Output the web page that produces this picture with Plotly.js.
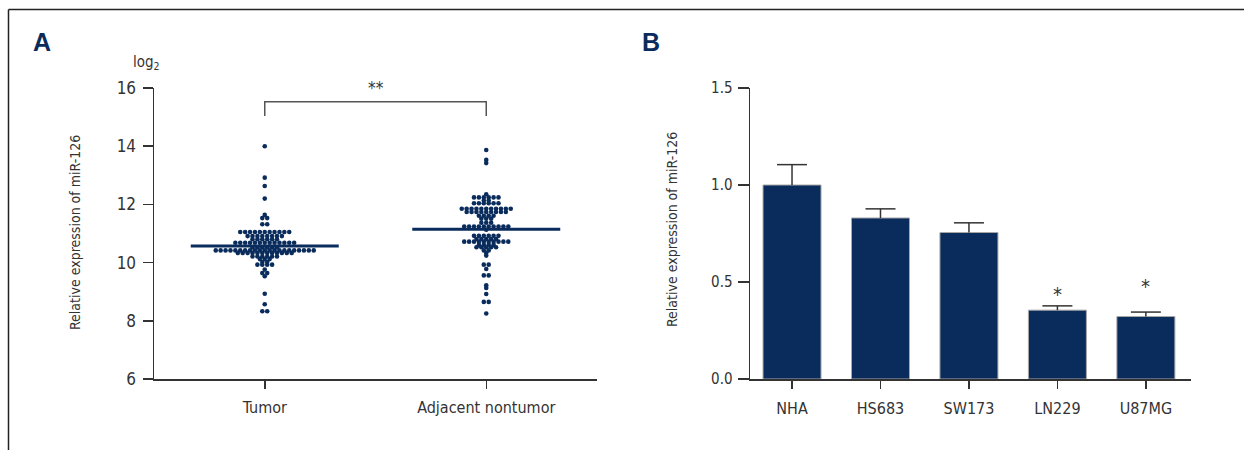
<!DOCTYPE html>
<html>
<head>
<meta charset="utf-8">
<script src="https://cdn.plot.ly/plotly-3.0.1.min.js"></script>
<style>html,body{margin:0;padding:0;background:#fff}#chart{width:1244px;height:450px}</style>
</head>
<body>
<div id="chart"></div>
<script>
// ---------- data ----------
const GROUPS = ["Tumor", "Adjacent nontumor"];
const TUMOR = [
  14.0, 12.92, 12.63, 12.2, 11.64, 11.53, 11.53, 11.32, 11.32,
  11.05, 11.05, 11.05, 11.05, 11.05, 11.05, 11.05, 11.05, 11.05, 11.05, 11.05,
  10.91, 10.91, 10.91, 10.91, 10.91, 10.91, 10.91, 10.91,
  10.8, 10.8, 10.8, 10.8, 10.8, 10.8,
  10.68, 10.68, 10.68, 10.68, 10.68, 10.68, 10.68, 10.68, 10.68, 10.68, 10.68, 10.68, 10.68,
  10.52, 10.52, 10.52, 10.52, 10.52, 10.52,
  10.42, 10.42, 10.42, 10.42, 10.42, 10.42, 10.42, 10.42, 10.42, 10.42, 10.42,
  10.42, 10.42, 10.42, 10.42, 10.42, 10.42, 10.42, 10.42, 10.42, 10.42,
  10.33, 10.33, 10.33, 10.33, 10.33, 10.33, 10.33, 10.33, 10.33, 10.33, 10.33, 10.33,
  10.21, 10.21, 10.21, 10.21, 10.21, 10.21,
  10.12, 10.12, 10.12,
  10.02, 10.02, 9.93, 9.93, 9.93, 9.93,
  9.76, 9.64, 9.64, 9.53,
  8.93, 8.57, 8.33, 8.33
];
const ADJACENT = [
  13.87, 13.53, 13.42, 12.35,
  12.24, 12.24, 12.24, 12.24, 12.24, 12.24,
  12.13, 12.13,
  12.04, 12.04, 12.04, 12.04, 12.04, 12.04,
  11.85, 11.85, 11.85, 11.85, 11.85, 11.85, 11.85, 11.85, 11.85, 11.85, 11.85,
  11.74, 11.74, 11.74, 11.74, 11.74, 11.74, 11.74, 11.74, 11.74,
  11.61, 11.61, 11.61, 11.61,
  11.51, 11.51, 11.51,
  11.37, 11.37, 11.37,
  11.24, 11.24, 11.24, 11.24, 11.24, 11.24, 11.24, 11.24, 11.24, 11.24,
  11.13,
  10.92, 10.92, 10.92, 10.92, 10.92, 10.92,
  10.81, 10.81, 10.81, 10.81, 10.81,
  10.72, 10.72, 10.72, 10.72, 10.72, 10.72, 10.72, 10.72, 10.72, 10.72,
  10.61, 10.61, 10.61, 10.61,
  10.53, 10.53, 10.53, 10.53, 10.53,
  10.42, 10.42, 10.33, 10.24,
  9.93, 9.93, 9.78, 9.56, 9.56, 9.22, 9.13, 8.92, 8.65, 8.65, 8.25
];
const CENTER_LINES = [10.57, 11.15];   // horizontal summary lines
const Y_TICKS_A = [6, 8, 10, 12, 14, 16];

const CELLS = ["NHA", "HS683", "SW173", "LN229", "U87MG"];
const EXPRESSION = [1.0, 0.83, 0.755, 0.355, 0.322];
const SEM = [0.105, 0.047, 0.05, 0.022, 0.023];
const SIGNIF = ["", "", "", "*", "*"];
const SIGNIF_Y = [0, 0, 0, 0.44, 0.48];
const Y_TICKS_B = [0, 0.5, 1.0, 1.5];

// ---------- geometry ----------
const W = 1244, H = 450;
const AX = [154, 597], AY = [88, 379];
const BX = [750, 1191], BY = [88, 379];
const XR_A = [-0.5, 1.5], YR_A = [6, 16];
const XR_B = [-0.475, 4.51], YR_B = [0, 1.5];
const pxPerXA = (AX[1] - AX[0]) / (XR_A[1] - XR_A[0]);
const pxPerXB = (BX[1] - BX[0]) / (XR_B[1] - XR_B[0]);

const NAVY = "#0a2c5c";
const INK = "#333333";
const FONT = '"Liberation Sans Narrow", "DejaVu Sans Condensed", "Roboto Condensed", "Arial Narrow", sans-serif';

// row-based dot plot layout: equal values share a row, centred on the group
function rows(vals, center, S) {
  const counts = {}, seen = {};
  vals.forEach(v => { counts[v] = (counts[v] || 0) + 1; });
  return vals.map(v => {
    const j = seen[v] = (seen[v] === undefined ? 0 : seen[v] + 1);
    const off = (j - (counts[v] - 1) / 2) * S;
    return center + off / pxPerXA;
  });
}

const S = 4.9;
const traces = [];
[TUMOR, ADJACENT].forEach((vals, g) => {
  traces.push({
    type: "scatter", mode: "markers", xaxis: "x", yaxis: "y",
    x: rows(vals, g, S), y: vals,
    marker: { size: 4.6, color: NAVY },
    hoverinfo: "y", cliponaxis: false
  });
});
// summary lines
const HALF = 74 / pxPerXA;
CENTER_LINES.forEach((v, g) => {
  traces.push({
    type: "scatter", mode: "lines", xaxis: "x", yaxis: "y",
    x: [g - HALF, g + HALF], y: [v, v],
    line: { color: NAVY, width: 3 }, hoverinfo: "skip", cliponaxis: false
  });
});
// significance bracket
traces.push({
  type: "scatter", mode: "lines", xaxis: "x", yaxis: "y",
  x: [0, 0, 1, 1], y: [15.04, 15.53, 15.53, 15.04],
  line: { color: "#555", width: 1.5 }, hoverinfo: "skip", cliponaxis: false
});

// panel B bars
traces.push({
  type: "bar", xaxis: "x2", yaxis: "y2",
  x: CELLS.map((c, i) => i), y: EXPRESSION, width: 58 / pxPerXB,
  marker: { color: NAVY, line: { color: "#a8a8a8", width: 1 } },
  hovertext: CELLS, hoverinfo: "text+y"
});
// error bars (upper only) drawn as lines
const CAP = 15 / pxPerXB;
const ex = [], ey = [];
EXPRESSION.forEach((v, i) => {
  ex.push(i, i, null, i - CAP, i + CAP, null);
  ey.push(v, v + SEM[i], null, v + SEM[i], v + SEM[i], null);
});
traces.push({
  type: "scatter", mode: "lines", xaxis: "x2", yaxis: "y2",
  x: ex, y: ey, line: { color: INK, width: 1.5 }, hoverinfo: "skip", cliponaxis: false
});

const annotations = [
  { text: "<b>A</b>", xref: "paper", yref: "paper", x: 42 / W, y: 1 - 42 / H, xanchor: "center", yanchor: "middle", showarrow: false, font: { family: '"Liberation Sans", Arial, sans-serif', size: 25, color: NAVY } },
  { text: "<b>B</b>", xref: "paper", yref: "paper", x: 651 / W, y: 1 - 42 / H, xanchor: "center", yanchor: "middle", showarrow: false, font: { family: '"Liberation Sans", Arial, sans-serif', size: 25, color: NAVY } },
  { text: "log<sub>2</sub>", xref: "paper", yref: "paper", x: 146 / W, y: 1 - 62 / H, xanchor: "center", yanchor: "middle", showarrow: false, font: { size: 15, color: INK } },
  { text: "Relative expression of miR-126", xref: "paper", yref: "paper", x: 75 / W, y: 1 - 233 / H, textangle: -90, xanchor: "center", yanchor: "middle", showarrow: false, font: { size: 14, color: INK } },
  { text: "Relative expression of miR-126", xref: "paper", yref: "paper", x: 672 / W, y: 1 - 230 / H, textangle: -90, xanchor: "center", yanchor: "middle", showarrow: false, font: { size: 14, color: INK } },
  { text: "**", xref: "x", yref: "paper", x: 0.5, y: 1 - 88 / H, xanchor: "center", yanchor: "middle", showarrow: false, font: { size: 17, color: INK } }
];
SIGNIF.forEach((s, i) => {
  if (s) annotations.push({ text: s, xref: "x2", yref: "y2", x: i, y: SIGNIF_Y[i], xanchor: "center", yanchor: "middle", showarrow: false, font: { size: 20, color: INK } });
});

const axisCommon = {
  showline: true, linecolor: INK, linewidth: 1.5, ticks: "outside", tickcolor: INK, tickwidth: 1.5,
  showgrid: false, zeroline: false, fixedrange: true
};

const layout = {
  width: W, height: H, margin: { l: 0, r: 0, t: 0, b: 0 },
  paper_bgcolor: "#fff", plot_bgcolor: "rgba(0,0,0,0)", showlegend: false,
  font: { family: FONT, color: INK },
  xaxis: Object.assign({}, axisCommon, { domain: [AX[0] / W, AX[1] / W], range: XR_A, tickvals: [0, 1], ticktext: GROUPS, ticklen: 8, tickfont: { size: 16, color: INK }, anchor: "y", ticklabelstandoff: 5 }),
  yaxis: Object.assign({}, axisCommon, { domain: [1 - AY[1] / H, 1 - AY[0] / H], range: YR_A, tickvals: Y_TICKS_A, ticklen: 10, tickfont: { size: 17, color: INK }, anchor: "x", ticklabelstandoff: 3 }),
  xaxis2: Object.assign({}, axisCommon, { domain: [BX[0] / W, BX[1] / W], range: XR_B, tickvals: CELLS.map((c, i) => i), ticktext: CELLS, ticklen: 8, tickfont: { size: 16, color: INK }, anchor: "y2", ticklabelstandoff: 6 }),
  yaxis2: Object.assign({}, axisCommon, { domain: [1 - BY[1] / H, 1 - BY[0] / H], range: YR_B, tickvals: Y_TICKS_B, tickformat: ".1f", ticklen: 11, tickfont: { size: 15, color: INK }, anchor: "x2", ticklabelstandoff: 2 }),
  annotations: annotations,
  shapes: [
    { type: "line", xref: "paper", yref: "paper", x0: 8.5 / W, x1: 1, y0: 1 - 9.5 / H, y1: 1 - 9.5 / H, line: { color: "#222", width: 1.5 } },
    { type: "line", xref: "paper", yref: "paper", x0: 8.5 / W, x1: 8.5 / W, y0: 0, y1: 1 - 9.5 / H, line: { color: "#222", width: 1.5 } }
  ],
  bargap: 0
};

Plotly.newPlot("chart", traces, layout, { displayModeBar: false, staticPlot: true });
</script>
</body>
</html>
